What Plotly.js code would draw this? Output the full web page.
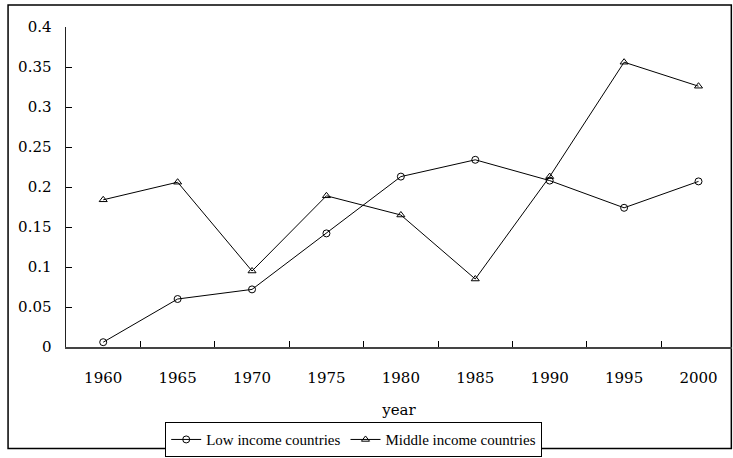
<!DOCTYPE html>
<html>
<head>
<meta charset="utf-8">
<script src="https://cdn.plot.ly/plotly-3.0.1.min.js"></script>
<style>
  html, body { margin: 0; padding: 0; background: #fff; }
  #chart { width: 733px; height: 458px; }
</style>
</head>
<body>
<div id="chart"></div>
<script>
const years = ['1960', '1965', '1970', '1975', '1980', '1985', '1990', '1995', '2000'];
const lowIncome = [0.006, 0.060, 0.072, 0.142, 0.213, 0.234, 0.208, 0.174, 0.207];
const middleIncome = [0.184, 0.206, 0.095, 0.189, 0.165, 0.085, 0.213, 0.356, 0.326];
const yTicks = [0, 0.05, 0.1, 0.15, 0.2, 0.25, 0.3, 0.35, 0.4];
const yTickText = ['0', '0.05', '0.1', '0.15', '0.2', '0.25', '0.3', '0.35', '0.4'];

const FONT = '"DejaVu Serif", "Liberation Serif", serif';
const LEGFONT = '"Liberation Serif", "DejaVu Serif", serif';

const traces = [
  {
    x: years, y: lowIncome, name: 'Low income countries',
    type: 'scatter', mode: 'lines+markers',
    line: { color: '#000', width: 1 },
    marker: { symbol: 'circle-open', size: 7, color: '#000', line: { width: 1, color: '#000' } }
  },
  {
    x: years, y: middleIncome, name: 'Middle income countries',
    type: 'scatter', mode: 'lines+markers',
    line: { color: '#000', width: 1 },
    marker: { symbol: 'triangle-up-open', size: 7, color: '#000', line: { width: 1, color: '#000' } }
  }
];

const layout = {
  width: 733, height: 458,
  margin: { l: 66, r: 1, t: 26.5, b: 105.5, pad: 0 },
  paper_bgcolor: '#fff', plot_bgcolor: '#fff',
  font: { family: FONT, size: 15, color: '#000' },
  showlegend: true,
  legend: {
    orientation: 'h', x: 0.432, xanchor: 'center', y: -0.235, yanchor: 'top',
    bordercolor: '#000', borderwidth: 1, bgcolor: '#fff',
    font: { family: LEGFONT, size: 15, color: '#000' },
    itemwidth: 30, tracegroupgap: 0, traceorder: 'normal'
  },
  xaxis: {
    type: 'category', range: [-0.5, 8.45],
    showline: true, linecolor: '#444', linewidth: 1.5,
    ticks: 'inside', ticklen: 6, tickwidth: 1, tickcolor: '#000',
    tickson: 'boundaries', showgrid: false, zeroline: false,
    ticklabelstandoff: 16,
    tickfont: { family: FONT, size: 15, color: '#000' },
    title: { text: 'year', font: { family: FONT, size: 15, color: '#000' }, standoff: 19 }
  },
  yaxis: {
    range: [0, 0.4], tickvals: yTicks, ticktext: yTickText,
    showline: true, linecolor: '#222', linewidth: 1.5,
    ticks: 'inside', ticklen: 6, tickwidth: 1, tickcolor: '#000',
    showgrid: false, zeroline: false,
    ticklabelstandoff: 10,
    tickfont: { family: FONT, size: 15, color: '#000' }
  },
  shapes: [{
    type: 'rect', xref: 'paper', yref: 'paper',
    x0: -0.087, x1: 0.999, y0: -0.317, y1: 1.069,
    line: { color: '#000', width: 1.5 }, fillcolor: 'rgba(0,0,0,0)', layer: 'below'
  }]
};

Plotly.newPlot('chart', traces, layout, { displayModeBar: false, staticPlot: true });
</script>
</body>
</html>
